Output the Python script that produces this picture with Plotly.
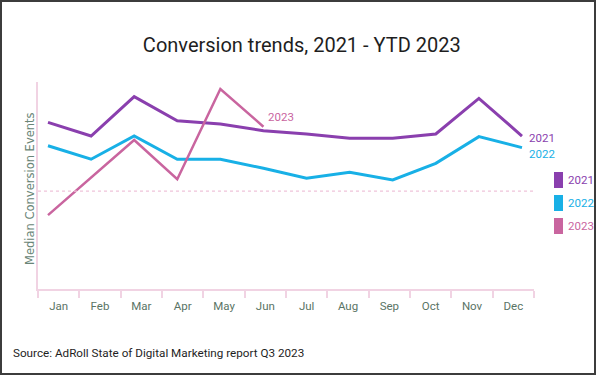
import plotly.graph_objects as go

# ---------------- data ----------------
months = ["Jan", "Feb", "Mar", "Apr", "May", "Jun", "Jul", "Aug", "Sep", "Oct", "Nov", "Dec"]
years = ["2021", "2022", "2023"]
values_2021 = [80.5, 73.9, 92.9, 81.3, 79.7, 76.5, 74.9, 72.8, 72.8, 74.9, 92.1, 73.9]
values_2022 = [69.2, 62.7, 73.9, 62.7, 62.7, 58.3, 53.5, 56.4, 52.7, 60.7, 73.6, 68.3]
values_2023 = [35.7, 54.0, 72.0, 53.0, 96.6, 78.4]
reference_level = 47.3

title_text = "Conversion trends, 2021 - YTD 2023"
source_text = "Source: AdRoll State of Digital Marketing report Q3 2023"
y_title = "Median Conversion Events"

# ---------------- styles ----------------
W, H = 600, 375
ML, MR, MT, MB = 38, 66, 82, 86
PW, PH = W - ML - MR, H - MT - MB
colors = {"2021": "#8a3fae", "2022": "#18b0e6", "2023": "#c9659f"}
axis_pink = "#f1d3e3"
label_green = "#5a7465"
narrow = "Roboto, sans-serif"


def px_x(px):
    return (px - ML) / PW


def px_y(py):
    return (H - MB - py) / PH


series = {"2021": values_2021, "2022": values_2022, "2023": values_2023}
widths = {"2021": 3, "2022": 3, "2023": 2.5}

fig = go.Figure()
for yr in ["2022", "2021", "2023"]:
    vals = series[yr]
    fig.add_trace(go.Scatter(
        x=list(range(len(vals))), y=vals, mode="lines", name=yr,
        line=dict(color=colors[yr], width=widths[yr]),
        showlegend=False, hoverinfo="skip",
    ))

# invisible trace on the labelled month axis so it renders
fig.add_trace(go.Scatter(x=[0.5], y=[0], xaxis="x2", mode="markers",
                         marker=dict(opacity=0), showlegend=False, hoverinfo="skip"))

fig.update_layout(
    width=W, height=H,
    margin=dict(l=ML, r=MR, t=MT, b=MB),
    paper_bgcolor="white", plot_bgcolor="white",
    title=dict(text=title_text, x=0.503, xanchor="center", y=1 - 45 / H, yanchor="middle",
               font=dict(family="Roboto, sans-serif", size=20, color="#1e1e1e")),
    xaxis=dict(range=[-0.232, 11.279], visible=False, fixedrange=True),
    xaxis2=dict(range=[0, 12], overlaying="x", side="bottom",
                tickmode="array", tickvals=[i + 0.5 for i in range(12)], ticktext=months,
                ticks="", showline=True, linecolor=axis_pink, linewidth=1.5,
                showgrid=False, zeroline=False, fixedrange=True,
                tickfont=dict(family=narrow, size=11.5, color=label_green),
                ticklabelstandoff=5,
                minor=dict(tickmode="array", tickvals=list(range(13)), ticks="outside",
                           ticklen=7, tickwidth=1.5, tickcolor=axis_pink, showgrid=False)),
    yaxis=dict(range=[0, 100], showticklabels=False, ticks="", showgrid=False, zeroline=False,
               showline=True, linecolor=axis_pink, linewidth=1.5, fixedrange=True),
    showlegend=False,
)

# dotted reference line
fig.add_shape(type="line", xref="paper", yref="y", x0=0, x1=px_x(533),
              y0=reference_level, y1=reference_level,
              line=dict(color="#efc4da", width=1.2, dash="dot"))

# y axis title
fig.add_annotation(text=y_title, xref="paper", yref="paper", x=px_x(30), y=px_y(189),
                   xanchor="center", yanchor="middle", textangle=-90, showarrow=False,
                   font=dict(family="DejaVu Sans, sans-serif", size=11.5, color="#6a8577"))

# end-of-line labels
fig.add_annotation(text="2023", x=5, y=values_2023[-1], xanchor="left", yanchor="middle",
                   xshift=3, yshift=10, showarrow=False,
                   font=dict(family=narrow, size=11.5, color=colors["2023"]))
fig.add_annotation(text="2021", x=11, y=values_2021[-1], xanchor="left", yanchor="middle",
                   xshift=5, yshift=-2, showarrow=False,
                   font=dict(family=narrow, size=11.5, color=colors["2021"]))
fig.add_annotation(text="2022", x=11, y=values_2022[-1], xanchor="left", yanchor="middle",
                   xshift=5, yshift=-6, showarrow=False,
                   font=dict(family=narrow, size=11.5, color=colors["2022"]))

# legend (swatches + labels)
legend_y = [180, 203, 226]
for yr, cy in zip(years, legend_y):
    fig.add_shape(type="rect", xref="paper", yref="paper",
                  x0=px_x(554), x1=px_x(563), y0=px_y(cy - 8), y1=px_y(cy + 8),
                  fillcolor=colors[yr], line=dict(width=0))
    fig.add_annotation(text=yr, xref="paper", yref="paper", x=px_x(566), y=px_y(cy),
                       xanchor="left", yanchor="middle", showarrow=False,
                       font=dict(family=narrow, size=11.5, color=colors[yr]))

# source note
fig.add_annotation(text=source_text, xref="paper", yref="paper", x=px_x(11), y=px_y(353),
                   xanchor="left", yanchor="middle", showarrow=False,
                   font=dict(family="Roboto, sans-serif", size=11.7, color="#1e1e1e"))

# outer frame
fig.add_shape(type="rect", xref="paper", yref="paper",
              x0=px_x(1), x1=px_x(595), y0=px_y(374), y1=px_y(1),
              line=dict(color="#3c3c3c", width=2), fillcolor="rgba(0,0,0,0)", layer="above")

fig.write_html("out.html", config={"displayModeBar": False},
               post_script="document.body.style.margin='0';")
